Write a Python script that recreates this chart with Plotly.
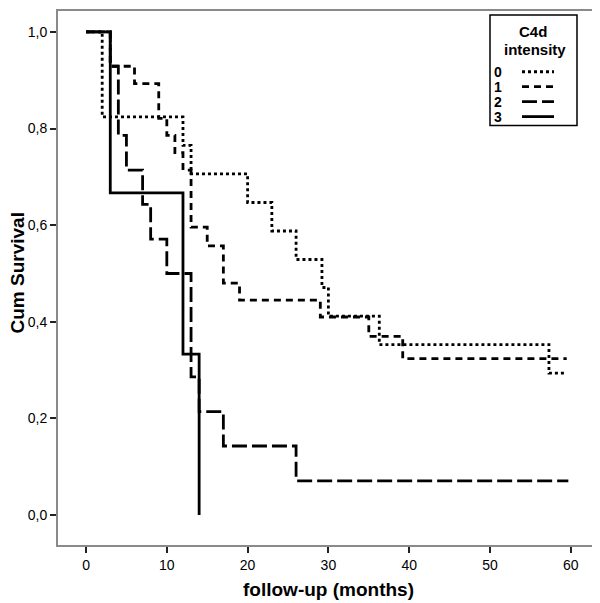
import plotly.graph_objects as go

# ---- data ----
groups = ["0", "1", "2", "3"]
t0 = [0, 2, 12, 13, 20, 23, 26, 29.2, 30, 36.3, 57.3, 59.5]
s0 = [1.0, 0.824, 0.765, 0.706, 0.647, 0.588, 0.529, 0.471, 0.412, 0.353, 0.294, 0.294]
t1 = [0, 3, 6, 9, 10, 11, 12, 13, 15, 17, 19, 29, 35, 39.2, 59.5]
s1 = [1.0, 0.929, 0.893, 0.821, 0.786, 0.75, 0.714, 0.596, 0.557, 0.48, 0.445, 0.41, 0.37, 0.324, 0.324]
t2 = [0, 3, 4, 5, 7, 8, 10, 13, 14, 17, 26, 59.7]
s2 = [1.0, 0.929, 0.786, 0.714, 0.643, 0.571, 0.5, 0.286, 0.214, 0.143, 0.071, 0.071]
t3 = [0, 3, 12, 14]
s3 = [1.0, 0.667, 0.333, 0.0]
x_ticks = [0, 10, 20, 30, 40, 50, 60]
y_ticks = [0.0, 0.2, 0.4, 0.6, 0.8, 1.0]
y_ticktext = ["0,0", "0,2", "0,4", "0,6", "0,8", "1,0"]
legend_title = ["C4d", "intensity"]
x_title = "follow-up (months)"
y_title = "Cum Survival"

series = [(t0, s0), (t1, s1), (t2, s2), (t3, s3)]
dashes = ["3px,3px", "7px,5px", "15px,5px", "solid"]
FONT = "Liberation Sans, Arial, sans-serif"

# page offset (browser default body margin)
OFF = 8
W, H = 600 - OFF, 603 - OFF
ML, MR, MT, MB = 50, 5, 1, 58
PW, PH = W - ML - MR, H - MT - MB

fig = go.Figure()
for name, (t, s), d in zip(groups, series, dashes):
    fig.add_trace(go.Scatter(x=t, y=s, mode="lines", name=name,
                             line=dict(shape="hv", color="black", width=2.8, dash=d),
                             showlegend=False, hoverinfo="skip"))

def px(xp):
    # page pixel -> paper coord
    return (xp - OFF - ML) / PW

def py(yp):
    return (MT + PH - (yp - OFF)) / PH

shapes = []
annotations = []
# legend box
shapes.append(dict(type="rect", xref="paper", yref="paper",
                   x0=px(490), x1=px(577), y0=py(124), y1=py(13),
                   line=dict(color="black", width=1.5), fillcolor="white", layer="above"))
annotations.append(dict(xref="paper", yref="paper", x=px(533), y=py(30),
                        text="<b>%s</b>" % legend_title[0], showarrow=False,
                        font=dict(size=15, color="black", family=FONT),
                        xanchor="center", yanchor="middle", borderpad=0))
annotations.append(dict(xref="paper", yref="paper", x=px(535), y=py(48),
                        text="<b>%s</b>" % legend_title[1], showarrow=False,
                        font=dict(size=15, color="black", family=FONT),
                        xanchor="center", yanchor="middle", borderpad=0))
for i, (name, d) in enumerate(zip(groups, dashes)):
    yy = 70 + 15 * i
    annotations.append(dict(xref="paper", yref="paper", x=px(498), y=py(yy),
                            text="<b>%s</b>" % name, showarrow=False,
                            font=dict(size=14, color="black", family=FONT),
                            xanchor="center", yanchor="middle", borderpad=0))
    shapes.append(dict(type="line", xref="paper", yref="paper",
                       x0=px(522), x1=px(554), y0=py(yy), y1=py(yy),
                       line=dict(color="black", width=2.8, dash=d), layer="above"))

# axis titles
annotations.append(dict(xref="paper", yref="paper", x=px(328), y=py(590),
                        text="<b>%s</b>" % x_title, showarrow=False,
                        font=dict(size=19, color="black", family=FONT),
                        xanchor="center", yanchor="middle"))
annotations.append(dict(xref="paper", yref="paper", x=px(5), y=py(272),
                        text="<b>%s</b>" % y_title, showarrow=False, textangle=-90,
                        font=dict(size=19, color="black", family=FONT),
                        xanchor="left", yanchor="middle"))

axis_common = dict(showgrid=False, zeroline=False, showline=True, mirror=True,
                   linecolor="#8a8a8a", linewidth=2, ticks="outside", ticklen=6,
                   tickwidth=1.5, tickcolor="#222222",
                   tickfont=dict(size=14, color="black", family=FONT))

fig.update_layout(
    width=W, height=H,
    margin=dict(l=ML, r=MR, t=MT, b=MB),
    paper_bgcolor="white", plot_bgcolor="white",
    shapes=shapes, annotations=annotations,
    xaxis=dict(range=[-3.47, 63.0], tickvals=x_ticks, **axis_common),
    yaxis=dict(range=[-0.0619, 1.0433], tickvals=y_ticks, ticktext=y_ticktext,
               **axis_common),
)

fig.write_html("out.html")
